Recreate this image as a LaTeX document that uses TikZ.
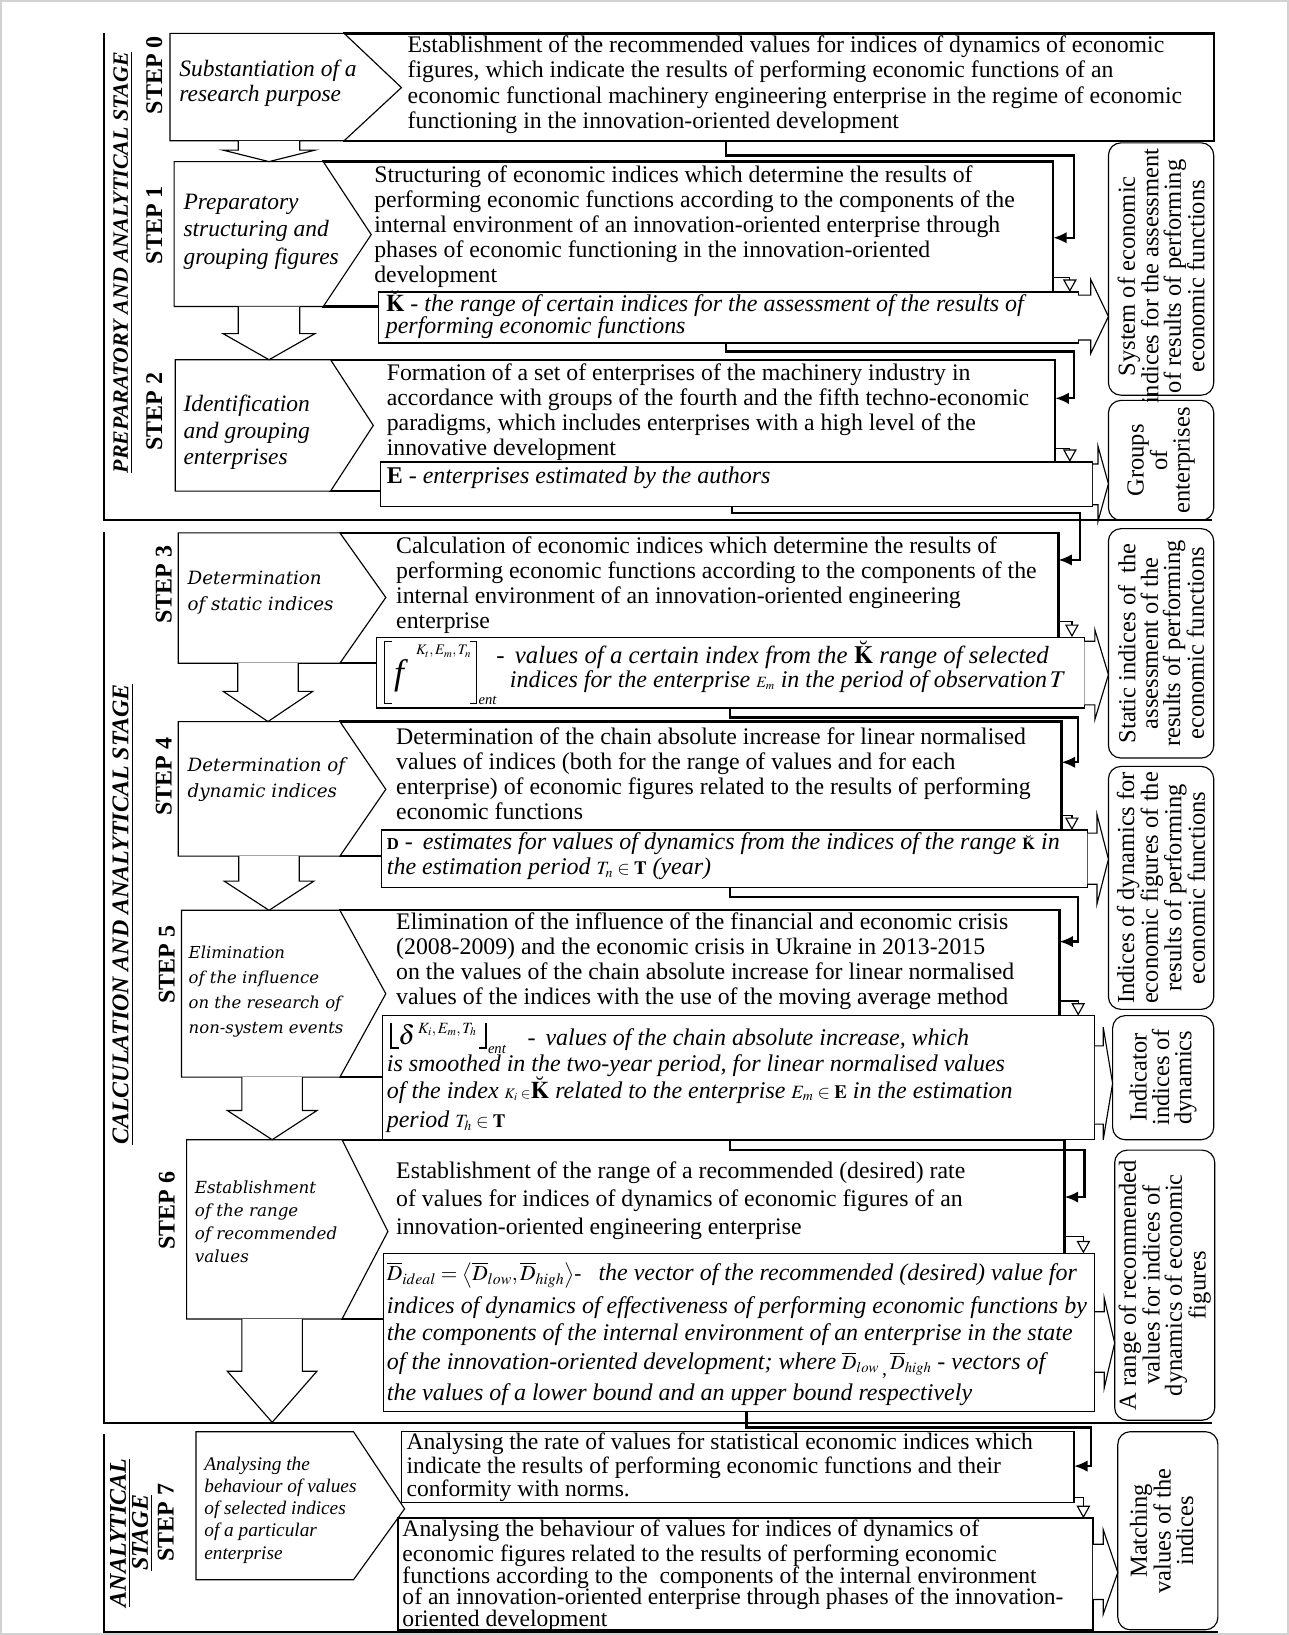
\documentclass[tikz,border=0pt]{standalone}
\usepackage{mathptmx}
\usepackage[no-math]{fontspec}
\setmainfont{Liberation Serif}
\newfontfamily\wideit{DejaVu Serif}
\usetikzlibrary{arrows.meta}
\newcommand\fsz[2]{\fontsize{#1}{#2}\selectfont}
\newcommand\mkbox[6]{\node[#1,anchor=north west,minimum width={(#5)-(#3)},minimum height={(#6)-(#4)}] (#2) at (#3,#4) {};}
\newcommand\hdown[6]{\draw[hollow] ({#1-#5},#2) -- ({#1-#5},#3) -- ({#1-#6},#3) -- (#1,#4) -- ({#1+#6},#3) -- ({#1+#5},#3) -- ({#1+#5},#2);}
\newcommand\hright[8]{\draw[hollow] (#1,#2) -- (#4,#2) -- (#4,#5) -- (#7,#8) -- (#4,#6) -- (#4,#3) -- (#1,#3);}
\begin{document}
\begin{tikzpicture}[x=1pt,y=-1pt,
  every node/.style={inner sep=0pt,outer sep=0pt},
  stepbox/.style={draw,line width=2.2pt},
  resbox/.style={draw,fill=white,line width=1.1pt},
  sidebox/.style={draw,rounded corners=12pt,line width=1.1pt},
  pent/.style={draw,fill=white,line width=1.1pt,line join=miter},
  hollow/.style={draw,fill=white,line width=1.1pt,line join=miter},
  stageline/.style={line width=2.2pt},
  conn/.style={line width=2.2pt,-{Latex[length=13pt,width=11pt]}},
  openv/.style={line width=1.1pt,-{Triangle[open,length=12pt,width=13pt]}},
  txt/.style={anchor=north west,align=left,font=\fsz{22.8}{24}},
  ptxt/.style={anchor=north west,align=left,font=\fsz{22.5}{24}\itshape},
  wtxt/.style={anchor=north west,align=left,font=\fsz{17.5}{25}\wideit\itshape},
  rtxt/.style={anchor=base west,font=\fsz{23}{23}\itshape},
  side/.style={rotate=90,align=center,font=\fsz{23.5}{21.5}},
  steplab/.style={rotate=90,font=\fsz{23}{23}\bfseries},
  stagelab/.style={rotate=90,align=center,font=\fsz{21}{23}\bfseries\itshape},
]
\useasboundingbox (0,0) rectangle (1236,1568);
\draw[gray!35,line width=1.5pt] (1,1) rectangle (1235,1567);

% ---------- stage frames
\draw[stageline] (100,32) -- (100,499) -- (1162,499);
\draw[stageline] (100,510) -- (100,1365) -- (1162,1365);
\draw[stageline] (100,1375) -- (100,1565) -- (1168,1565);

% ---------- step text boxes
\mkbox{stepbox}{b0}{330}{32}{1164}{135}
\mkbox{stepbox}{b1}{310}{155}{1010}{294}
\mkbox{stepbox}{b2}{317}{345}{1012}{471}
\mkbox{stepbox}{b3}{326}{511}{1015}{636}
\mkbox{stepbox}{b4}{326}{692}{1018}{821}
\mkbox{stepbox}{b5}{326}{873}{1016}{1033}
\mkbox{stepbox}{b6}{328}{1093}{1021}{1265}

% ---------- pentagons
\draw[pent] (163,32) -- (330,32) -- (385,84) -- (330,135) -- (163,135) -- cycle;
\draw[pent] (167,155) -- (310,155) -- (356,225) -- (310,294) -- (167,294) -- cycle;
\draw[pent] (168,345) -- (317,345) -- (358,408) -- (317,471) -- (168,471) -- cycle;
\draw[pent] (171,511) -- (326,511) -- (370,573) -- (326,636) -- (171,636) -- cycle;
\draw[pent] (171,692) -- (326,692) -- (370,757) -- (326,821) -- (171,821) -- cycle;
\draw[pent] (174,873) -- (326,873) -- (370,953) -- (326,1033) -- (174,1033) -- cycle;
\draw[pent] (179,1093) -- (328,1093) -- (372,1181) -- (328,1265) -- (179,1265) -- cycle;
\draw[pent] (188,1373) -- (339,1373) -- (388,1447) -- (339,1515) -- (188,1515) -- cycle;

% ---------- step 7 boxes
\mkbox{resbox,line width=1.4pt}{b7a}{385}{1373}{1030}{1441}
\mkbox{stepbox}{b7b}{382}{1456}{1048}{1563}

% ---------- result boxes
\mkbox{resbox}{r1}{363}{280}{1034}{329}
\mkbox{resbox}{r2}{365}{443}{1048}{486}
\mkbox{resbox}{r3}{361}{611}{1040}{679}
\mkbox{resbox}{r4}{366}{796}{1043}{851}
\mkbox{resbox}{r5}{367}{974}{1050}{1093}
\mkbox{resbox}{r6}{368}{1202}{1050}{1354}

% ---------- side boxes
\mkbox{sidebox}{sA}{1063}{137}{1164}{379}
\mkbox{sidebox}{sB}{1063}{384}{1164}{499}
\mkbox{sidebox}{sC}{1063}{507}{1164}{727}
\mkbox{sidebox}{sD}{1063}{735}{1164}{968}
\mkbox{sidebox}{sE}{1067}{974}{1164}{1093}
\mkbox{sidebox}{sF}{1069}{1103}{1165}{1362}
\mkbox{sidebox}{sG}{1072}{1373}{1168}{1563}

% ---------- hollow down arrows
\hdown{258}{135}{144}{155}{29.5}{44}
\hdown{258}{294}{320}{345}{29.5}{44}
\hdown{257}{636}{663}{692}{29}{43}
\hdown{258}{821}{845}{873}{29}{43}
\hdown{261}{1033}{1065}{1093}{29}{43}
\hdown{261}{1265}{1315}{1364}{29}{43}

% ---------- hollow right arrows
\hright{1034}{283}{326}{1046}{268}{339}{1063}{303.5}
\hright{1048}{445}{484}{1053}{428}{500}{1063}{464}
\hright{1040}{615}{676}{1050}{604}{690}{1063}{647}
\hright{1043}{799}{848}{1052}{781}{867}{1063}{824}
\hright{1050}{1003}{1078}{1058}{985}{1093}{1067}{1039}
\hright{1050}{1258}{1316}{1059}{1245}{1331}{1069}{1288}
\hright{1048}{1481}{1534}{1058}{1467}{1548}{1072}{1508}

% ---------- connectors
\coordinate (j0a) at (696,149);  \coordinate (j0b) at (1030,228);
\coordinate (j1a) at (696,337);  \coordinate (j1b) at (1030,382);
\coordinate (j2a) at (702,492);  \coordinate (j2b) at (1036,537);
\coordinate (j3a) at (700,688);  \coordinate (j3b) at (1034,731);
\coordinate (j4a) at (700,860);  \coordinate (j4b) at (1034,903);
\coordinate (j5a) at (700,1103); \coordinate (j5b) at (1040,1148);
\coordinate (j6a) at (716,1369); \coordinate (j6b) at (1046,1406);
\draw[conn] (b0.south -| j0a) -- (j0a) -| (j0b) -- (b1.east |- j0b);
\draw[conn] (r1.south -| j1a) -- (j1a) -| (j1b) -- (b2.east |- j1b);
\draw[conn] (r2.south -| j2a) -- (j2a) -| (j2b) -- (b3.east |- j2b);
\draw[conn] (r3.south -| j3a) -- (j3a) -| (j3b) -- (b4.east |- j3b);
\draw[conn] (r4.south -| j4a) -- (j4a) -| (j4b) -- (b5.east |- j4b);
\draw[conn] (r5.south -| j5a) -- (j5a) -| (j5b) -- (b6.east |- j5b);
\draw[conn] (r6.south -| j6a) -- (j6a) -| (j6b) -- (b7a.east |- j6b);

% ---------- open V arrows
\coordinate (v1) at (1026,266);  \draw[openv] (b1.east |- v1) -| (r1.north -| v1);
\coordinate (v2) at (1026,430);  \draw[openv] (b2.east |- v2) -| (r2.north -| v2);
\coordinate (v3) at (1028,596);  \draw[openv] (b3.east |- v3) -| (r3.north -| v3);
\coordinate (v4) at (1028,782);  \draw[openv] (b4.east |- v4) -| (r4.north -| v4);
\coordinate (v5) at (1034,960);  \draw[openv] (b5.east |- v5) -| (r5.north -| v5);
\coordinate (v6) at (1039,1186); \draw[openv] (b6.east |- v6) -| (r6.north -| v6);
\coordinate (v7) at (1039,1436); \draw[openv] (b7a.east |- v7) -| (b7b.north -| v7);

% ---------- stage and step labels
\node[stagelab] (lab1) at (118,252) {\underline{PREPARATORY AND ANALYTICAL STAGE}};
\node[stagelab,font=\fsz{23}{23}\bfseries\itshape] (lab2) at (118,877) {\underline{CALCULATION AND ANALYTICAL STAGE}};
\node[stagelab,font=\fsz{23}{20}\bfseries\itshape] (lab3) at (126,1470) {\underline{ANALYTICAL}\\\underline{STAGE}};
\node[steplab] (st0) at (148,72) {STEP 0};
\node[steplab] (st1) at (148,216) {STEP 1};
\node[steplab] (st2) at (148,395) {STEP 2};
\node[steplab] (st3) at (157,561) {STEP 3};
\node[steplab] (st4) at (157,745) {STEP 4};
\node[steplab] (st5) at (160,925) {STEP 5};
\node[steplab] (st6) at (160,1161) {STEP 6};
\node[steplab] (st7) at (159,1460) {STEP 7};

% ---------- pentagon texts
\node[ptxt] (p0) at (172,57) {\strut Substantiation of a\\research purpose};
\node[ptxt,font=\fsz{22.5}{26}\itshape] (p1) at (176,183) {\strut Preparatory\\structuring and\\grouping figures};
\node[ptxt,font=\fsz{22.5}{25.5}\itshape] (p2) at (176,377) {\strut Identification\\and grouping\\enterprises};
\node[wtxt] (p3) at (180,543) {\strut Determination\\of static indices};
\node[wtxt] (p4) at (180,722) {\strut Determination of\\dynamic indices};
\node[wtxt,font=\fsz{15.8}{24}\wideit\itshape] (p5) at (181,902) {\strut Elimination\\of the influence\\on the research of\\non-system events};
\node[wtxt,font=\fsz{16}{22}\wideit\itshape] (p6) at (187,1129) {\strut Establishment\\of the range\\of recommended\\values};
\node[ptxt,font=\fsz{18.5}{21.3}\itshape] (p7) at (196,1395) {\strut Analysing the\\behaviour of values\\of selected indices\\of a particular\\enterprise};

% ---------- step texts
\node[txt] (t0) at (391,34) {\strut Establishment of the recommended values for indices of dynamics of economic\\figures, which indicate the results of performing economic functions of an\\economic functional machinery engineering enterprise in the regime of economic\\functioning in the innovation-oriented development};
\node[txt] (t1) at (359,158) {\strut Structuring of economic indices which determine the results of\\performing economic functions according to the components of the\\internal environment of an innovation-oriented enterprise through\\phases of economic functioning in the innovation-oriented\\development};
\node[txt] (t2) at (371,348) {\strut Formation of a set of enterprises of the machinery industry in\\accordance with groups of the fourth and the fifth techno-economic\\paradigms, which includes enterprises with a high level of the\\innovative development};
\node[txt] (t3) at (380,514) {\strut Calculation of economic indices which determine the results of\\performing economic functions according to the components of the\\internal environment of an innovation-oriented engineering\\enterprise};
\node[txt] (t4) at (380,697) {\strut Determination of the chain absolute increase for linear normalised\\values of indices (both for the range of values and for each\\enterprise) of economic figures related to the results of performing\\economic functions};
\node[txt] (t5) at (380,875) {\strut Elimination of the influence of the financial and economic crisis\\(2008-2009) and the economic crisis in Ukraine in 2013-2015\\on the values of the chain absolute increase for linear normalised\\values of the indices with the use of the moving average method};
\node[txt,font=\fsz{22.8}{26.5}] (t6) at (380,1112) {\strut Establishment of the range of a recommended (desired) rate\\of values for indices of dynamics of economic figures of an\\innovation-oriented engineering enterprise};
\node[txt,font=\fsz{22.6}{20.7}] (t7a) at (390,1374) {\strut Analysing the rate of values for statistical economic indices which\\indicate the results of performing economic functions and their\\conformity with norms.};
\node[txt,font=\fsz{22.6}{21}] (t7b) at (386,1458) {\strut Analysing the behaviour of values for indices of dynamics of\\economic figures related to the results of performing economic\\functions according to the~~components of the internal environment\\of an innovation-oriented enterprise through phases of the innovation-\\oriented development};

% ---------- result box texts
\node[rtxt] (k1) at (370,299) {$\breve{\mathbf{K}}$ - the range of certain indices for the assessment of the results of};
\node[rtxt] (k2) at (370,320) {performing economic functions};
\node[rtxt] (e1) at (371,464) {{\upshape\bfseries E} - enterprises estimated by the authors};
% f box
\draw[line width=1.2pt] (376,615) -- (369,615) -- (369,675) -- (376,675);
\draw[line width=1.2pt] (451,615) -- (457,615) -- (457,675) -- (451,675);
\node[anchor=base west] (ff) at (378,656) {\fsz{34}{34}\itshape f};
\node[anchor=base west] (fsup) at (399,628) {\fsz{14}{14}$K_t,E_m,T_n$};
\node[anchor=base west] (fent) at (459,676) {\fsz{14}{14}\itshape ent};
\node[rtxt,font=\fsz{23.8}{23.8}\itshape] (f1) at (476,636) {- \,values of a certain index from the $\breve{\mathbf{K}}$ range of selected};
\node[rtxt] (f2) at (489,659) {indices for the enterprise {\fsz{15}{15}$E_m$} in the period of observation$\,T$};
% D box
\node[rtxt] (d1) at (371,815) {{\upshape\bfseries\fsz{16}{16}D} - \,estimates for values of dynamics from the indices of the range {\fsz{16}{16}$\breve{\mathbf{K}}$} in};
\node[rtxt] (d2) at (371,839) {the estimation period {\fsz{18}{18}$T_n\in\mathbf{T}$} (year)};
% delta box
\draw[line width=1.3pt] (375,981) -- (375,1005) -- (383,1005);
\draw[line width=1.3pt] (466,981) -- (466,1005) -- (459,1005);
\node[anchor=base west] (dl) at (382,1002) {\fsz{26}{26}$\delta$};
\node[anchor=base west] (dsup) at (401,991) {\fsz{15}{15}$K_i,E_m,T_h$};
\node[anchor=base west] (dent) at (468,1010) {\fsz{14}{14}\itshape ent};
\node[rtxt] (g1) at (506,1003) {- \,values of the chain absolute increase, which};
\node[rtxt] (g2) at (371,1028) {is smoothed in the two-year period, for linear normalised values};
\node[rtxt] (g3) at (371,1053) {of the index {\fsz{14}{14}$K_i\in$}$\breve{\mathbf{K}}$ related to the enterprise {\fsz{18}{18}$E_m\in\mathbf{E}$} in the estimation};
\node[rtxt] (g4) at (371,1081) {period {\fsz{18}{18}$T_h\in\mathbf{T}$}};
% D ideal box
\node[anchor=base west] (i0) at (371,1228) {\fsz{20.5}{20.5}$\overline{D}_{ideal}=\left\langle\overline{D}_{low},\overline{D}_{high}\right\rangle$-};
\node[rtxt] (i1) at (574,1228) {the vector of the recommended (desired) value for};
\node[rtxt] (i2) at (371,1260) {indices of dynamics of effectiveness of performing economic functions by};
\node[rtxt] (i3) at (371,1286) {the components of the internal environment of an enterprise in the state};
\node[rtxt] (i4) at (371,1313) {of the innovation-oriented development; where {\fsz{19}{19}$\overline{D}_{low}$\,\raisebox{-6pt}{,}\,$\overline{D}_{high}$} - vectors of};
\node[rtxt] (i5) at (371,1343) {the values of a lower bound and an upper bound respectively};

% ---------- side texts
\node[side] (xA) at ([yshift=-7pt]sA.center) {System of economic\\indices for the assessment\\of results of performing\\economic functions};
\node[side] (xB) at (sB.center) {Groups\\of\\enterprises};
\node[side] (xC) at (sC.center) {Static indices of~~the\\assessment of the\\results of performing\\economic functions};
\node[side] (xD) at (sD.center) {Indices of dynamics for\\economic figures of the\\results of performing\\economic functions};
\node[side] (xE) at (sE.center) {Indicator\\indices of\\dynamics};
\node[side] (xF) at (sF.center) {A range of recommended\\values for indices of\\dynamics of economic\\figures};
\node[side] (xG) at ([xshift=-6pt]sG.center) {Matching\\values of the\\indices};
\end{tikzpicture}
\end{document}
